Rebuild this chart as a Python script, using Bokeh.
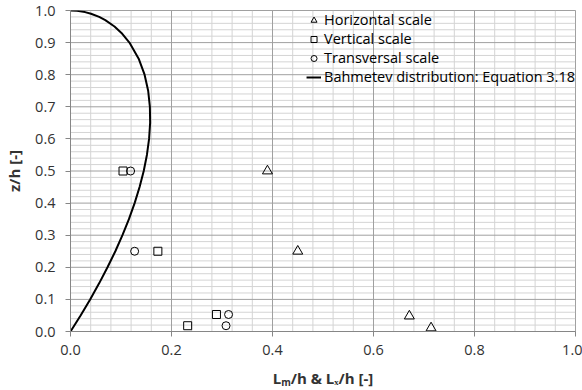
from bokeh.plotting import figure
from bokeh.models import FixedTicker, PrintfTickFormatter, Legend, LegendItem, Span
from bokeh.embed import file_html
from bokeh.resources import INLINE

# Data
horiz_x = [0.39, 0.45, 0.671, 0.714]
horiz_z = [0.50, 0.25, 0.048, 0.011]

vert_x = [0.104, 0.173, 0.289, 0.232]
vert_z = [0.50, 0.25, 0.053, 0.018]

trans_x = [0.119, 0.127, 0.313, 0.308]
trans_z = [0.50, 0.25, 0.053, 0.018]

# Bahmetev distribution curve
bahm_z = [0.0, 0.05, 0.1, 0.15, 0.2, 0.25, 0.3, 0.35, 0.4, 0.45, 0.5, 0.55, 0.6,
          0.65, 0.7, 0.75, 0.8, 0.85, 0.9, 0.93, 0.95, 0.97, 0.98, 0.99, 0.995, 0.999, 1.0]
bahm_x = [0.0, 0.020, 0.0389, 0.0567, 0.0733, 0.0888, 0.1029, 0.1157, 0.1270, 0.1368,
          0.1450, 0.1513, 0.1556, 0.1577, 0.1572, 0.1538, 0.1467, 0.1350, 0.1167, 0.1009,
          0.0871, 0.0689, 0.0568, 0.0406, 0.0288, 0.0130, 0.0]

x_ticks = [0.0, 0.2, 0.4, 0.6, 0.8, 1.0]
x_minor = [round(i * 0.04, 2) for i in range(26)]
y_ticks = [round(i * 0.1, 1) for i in range(11)]
y_minor = [round(i * 0.02, 2) for i in range(51)]

FONT = "Open Sans"
MAJOR = "#a0a0a0"
MINOR = "#d4d4d4"
AXIS = "#868686"
TXT = "#333333"

p = figure(width=582, height=390, output_backend="svg", toolbar_location=None,
           x_range=(0, 1), y_range=(0, 1))
p.min_border_left = 70
p.min_border_right = 7
p.min_border_top = 10
p.min_border_bottom = 59
p.outline_line_color = MAJOR
p.background_fill_color = "white"
p.border_fill_color = "white"
p.xgrid.visible = False
p.ygrid.visible = False

x_ticker = FixedTicker(ticks=x_ticks, minor_ticks=x_minor)
y_ticker = FixedTicker(ticks=y_ticks, minor_ticks=y_minor)

for ax, tk in ((p.xaxis[0], x_ticker), (p.yaxis[0], y_ticker)):
    ax.ticker = tk
    ax.formatter = PrintfTickFormatter(format="%.1f")
    ax.axis_line_color = AXIS
    ax.major_tick_line_color = AXIS
    ax.major_tick_out = 5
    ax.major_tick_in = 0
    ax.minor_tick_line_color = None
    ax.major_label_text_font = FONT
    ax.major_label_text_font_size = "14.5px"
    ax.major_label_text_color = TXT
    ax.axis_label_text_font = FONT
    ax.axis_label_text_font_size = "15px"
    ax.axis_label_text_font_style = "bold"
    ax.axis_label_text_color = TXT

p.xaxis[0].axis_label = "L\u2098/h & L\u2093/h [-]"
p.xaxis[0].major_label_standoff = 8
p.xaxis[0].axis_label_standoff = 10
p.yaxis[0].axis_label = "z/h [-]"
p.yaxis[0].major_label_standoff = 10
p.yaxis[0].axis_label_standoff = 8

# grid lines drawn from the tick arrays (minor first, major on top)
for v in x_minor:
    if v not in x_ticks:
        p.add_layout(Span(location=v, dimension="height", line_color=MINOR,
                          line_width=1, level="underlay"))
for v in y_minor:
    if round(v * 10, 6) != round(v * 10):
        p.add_layout(Span(location=v, dimension="width", line_color=MINOR,
                          line_width=1, level="underlay"))
for v in x_ticks:
    p.add_layout(Span(location=v, dimension="height", line_color=MAJOR,
                      line_width=1, level="underlay"))
for v in y_ticks:
    p.add_layout(Span(location=v, dimension="width", line_color=MAJOR,
                      line_width=1, level="underlay"))

r_h = p.scatter(horiz_x, horiz_z, marker="triangle", size=10, fill_color=None,
                line_color="black", line_width=1)
r_v = p.scatter(vert_x, vert_z, marker="square", size=8, fill_color=None,
                line_color="black", line_width=1)
r_t = p.scatter(trans_x, trans_z, marker="circle", size=8, fill_color=None,
                line_color="black", line_width=1)
r_b = p.line(bahm_x, bahm_z, line_color="black", line_width=2)

legend = Legend(items=[
    LegendItem(label="Horizontal scale", renderers=[r_h]),
    LegendItem(label="Vertical scale", renderers=[r_v]),
    LegendItem(label="Transversal scale", renderers=[r_t]),
    LegendItem(label="Bahmetev distribution: Equation 3.18", renderers=[r_b]),
], location="top_right")
legend.background_fill_alpha = 0
legend.border_line_alpha = 0
legend.padding = 0
legend.margin = 0
legend.spacing = -2
legend.glyph_width = 15
legend.glyph_height = 16
legend.label_height = 16
legend.label_standoff = 3
legend.label_text_font = FONT
legend.label_text_font_size = "14.5px"
legend.label_text_color = "#000000"
p.add_layout(legend, "center")

open("out.html", "w").write(file_html(p, INLINE))
